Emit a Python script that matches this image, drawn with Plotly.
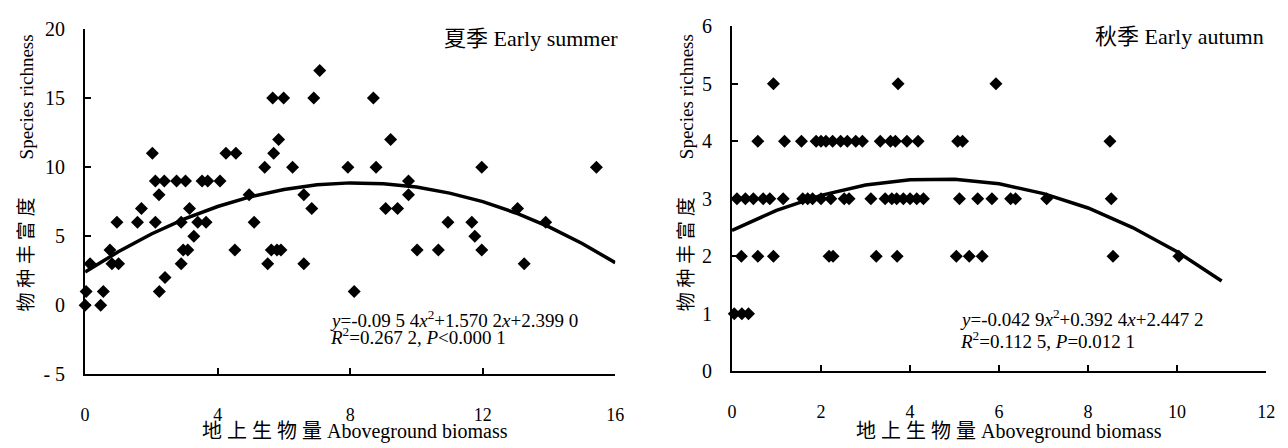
import plotly.graph_objects as go

# ---- Early summer (left panel) ----
summer_x = [0.00, 0.47, 0.03, 0.55, 0.15, 0.75, 0.81, 1.01, 0.96, 1.58, 1.70, 2.03, 2.12, 2.39,
            2.23, 2.12, 2.24, 2.41, 2.76, 3.03, 3.15, 2.90, 2.90, 2.96, 3.10, 3.28, 3.40, 3.65,
            3.53, 3.70, 4.07, 4.25, 4.55, 4.52, 4.95, 5.10, 5.42, 5.69, 5.66, 5.99, 5.84, 5.51,
            5.62, 5.79, 5.91, 6.26, 6.60, 6.84, 6.90, 7.08, 6.60, 7.93, 8.12, 8.70, 8.78, 9.22,
            9.07, 9.43, 9.76, 9.76, 10.02, 10.66, 10.95, 11.67, 11.76, 11.97, 11.97, 13.05,
            13.25, 13.90, 15.43]
summer_y = [0, 0, 1, 1, 3, 4, 3, 3, 6, 6, 7, 11, 9, 9,
            8, 6, 1, 2, 9, 9, 7, 6, 3, 4, 4, 5, 6, 6,
            9, 9, 9, 11, 11, 4, 8, 6, 10, 11, 15, 15, 12, 3,
            4, 4, 4, 10, 8, 7, 15, 17, 3, 10, 1, 15, 10, 12,
            7, 7, 9, 8, 4, 4, 6, 6, 5, 4, 10, 7,
            3, 6, 10]
summer_fit_x = [0, 1, 2, 3, 4, 5, 6, 7, 8, 9, 10, 11, 12, 13, 14, 15, 16]
summer_fit_y = [2.40, 3.87, 5.16, 6.25, 7.15, 7.86, 8.38, 8.72, 8.86, 8.80, 8.56, 8.12,
                7.50, 6.68, 5.67, 4.47, 3.08]

# ---- Early autumn (right panel) ----
autumn_x = [0.93, 3.73, 5.93,
            0.58, 1.18, 1.56, 1.89, 2.00, 2.11, 2.26, 2.44, 2.59, 2.78, 2.93, 3.33, 3.56, 3.67,
            3.93, 4.18, 5.07, 5.18, 8.49,
            0.11, 0.30, 0.48, 0.70, 0.85, 1.15, 1.59, 1.70, 1.81, 2.00, 2.22, 2.52, 2.63, 3.12,
            3.44, 3.59, 3.70, 3.85, 4.00, 4.15, 4.30, 5.11, 5.52, 5.84, 6.26, 6.37, 7.07, 8.52,
            0.21, 0.58, 0.93, 2.18, 2.27, 3.24, 3.71, 5.04, 5.33, 5.62, 8.56, 10.04,
            0.05, 0.22, 0.37]
autumn_y = [5, 5, 5,
            4, 4, 4, 4, 4, 4, 4, 4, 4, 4, 4, 4, 4, 4,
            4, 4, 4, 4, 4,
            3, 3, 3, 3, 3, 3, 3, 3, 3, 3, 3, 3, 3, 3,
            3, 3, 3, 3, 3, 3, 3, 3, 3, 3, 3, 3, 3, 3,
            2, 2, 2, 2, 2, 2, 2, 2, 2, 2, 2, 2,
            1, 1, 1]
autumn_fit_x = [0, 1, 2, 3, 4, 5, 6, 7, 8, 9, 10, 11]
autumn_fit_y = [2.45, 2.80, 3.06, 3.24, 3.33, 3.34, 3.26, 3.09, 2.84, 2.50, 2.08, 1.57]

summer_ticks_x = [0, 4, 8, 12, 16]
summer_ticks_y = [-5, 0, 5, 10, 15, 20]
autumn_ticks_x = [0, 2, 4, 6, 8, 10, 12]
autumn_ticks_y = [0, 1, 2, 3, 4, 5, 6]

FONT = "Liberation Serif, Noto Sans CJK SC, serif"
W, H = 1288, 448

fig = go.Figure()
mk = dict(symbol="diamond", size=10, color="black", line=dict(width=0))
fig.add_trace(go.Scatter(x=summer_x, y=summer_y, mode="markers", marker=mk,
                         xaxis="x", yaxis="y", cliponaxis=False, showlegend=False))
fig.add_trace(go.Scatter(x=summer_fit_x, y=summer_fit_y, mode="lines",
                         line=dict(color="black", width=3.5), xaxis="x", yaxis="y",
                         showlegend=False))
fig.add_trace(go.Scatter(x=autumn_x, y=autumn_y, mode="markers", marker=mk,
                         xaxis="x2", yaxis="y2", cliponaxis=False, showlegend=False))
fig.add_trace(go.Scatter(x=autumn_fit_x, y=autumn_fit_y, mode="lines",
                         line=dict(color="black", width=3.5), xaxis="x2", yaxis="y2",
                         showlegend=False))

ax_common = dict(showline=True, linecolor="#000000", linewidth=2, showgrid=False,
                 zeroline=False, ticks="inside", ticklen=6, tickwidth=2, tickcolor="#000000")
xfont = dict(family=FONT, size=18, color="#000000")
yfont = dict(family=FONT, size=20, color="#000000")


def xlabels(vals):
    # blank first line pushes the numbers down, as in the reference
    return ["<br>" + str(v) for v in vals]


def ylabels(vals):
    return [str(v).replace("-", "- ") + "\u2002\u2009" for v in vals]


def px_x(p):
    return p / W


def px_y(p):
    return 1 - p / H


fig.update_layout(
    width=W, height=H, margin=dict(l=0, r=0, t=0, b=0, pad=0),
    paper_bgcolor="white", plot_bgcolor="white",
    xaxis=dict(domain=[px_x(81), px_x(617)], range=[0, 16], tickvals=summer_ticks_x,
               ticktext=xlabels(summer_ticks_x), anchor="y", tickfont=xfont, **ax_common),
    yaxis=dict(domain=[px_y(382), px_y(19)], range=[-5, 20], tickvals=summer_ticks_y,
               ticktext=ylabels(summer_ticks_y), anchor="x", tickfont=yfont, **ax_common),
    xaxis2=dict(domain=[px_x(735), px_x(1275)], range=[0, 12], tickvals=autumn_ticks_x,
                ticktext=xlabels(autumn_ticks_x), anchor="y2", tickfont=xfont, **ax_common),
    yaxis2=dict(domain=[px_y(379), px_y(16)], range=[0, 6], tickvals=autumn_ticks_y,
                ticktext=ylabels(autumn_ticks_y), anchor="x2", tickfont=yfont, **ax_common),
)


def ann(text, x, y, xanchor="center", yanchor="middle", size=19, angle=0):
    fig.add_annotation(text=text, x=px_x(x), y=px_y(y), xref="paper", yref="paper",
                       xanchor=xanchor, yanchor=yanchor, showarrow=False, textangle=angle,
                       font=dict(family=FONT, size=size, color="black"))


sp = "\u2005"
ytitle = sp.join("物种丰富度") + "\u2003\u2003Species richness"
xtitle = sp.join("地上生物量") + " Aboveground biomass"

# axis titles
ann(ytitle, 22, 170, size=19, angle=-90)
ann(ytitle, 689, 170, size=19, angle=-90)
ann(xtitle, 354, 442, size=20)
ann(xtitle, 1015, 442, size=20)

# panel labels
ann("夏季 Early summer", 622, 29, xanchor="right", size=22)
ann("秋季 Early autumn", 1275, 27, xanchor="right", size=22)

# equations
ann("<i>y</i>=-0.09 5 4<i>x</i><sup>2</sup>+1.570 2<i>x</i>+2.399 0", 327, 324, xanchor="left", size=19)
ann("<i>R</i><sup>2</sup>=0.267 2, <i>P</i>&lt;0.000 1", 327, 342, xanchor="left", size=19)
ann("<i>y</i>=-0.042 9<i>x</i><sup>2</sup>+0.392 4<i>x</i>+2.447 2", 963, 323, xanchor="left", size=19)
ann("<i>R</i><sup>2</sup>=0.112 5, <i>P</i>=0.012 1", 963, 346, xanchor="left", size=19)

fig.write_html("out.html", config={"displayModeBar": False},
               post_script="document.body.style.margin='0';document.body.style.padding='0';")
